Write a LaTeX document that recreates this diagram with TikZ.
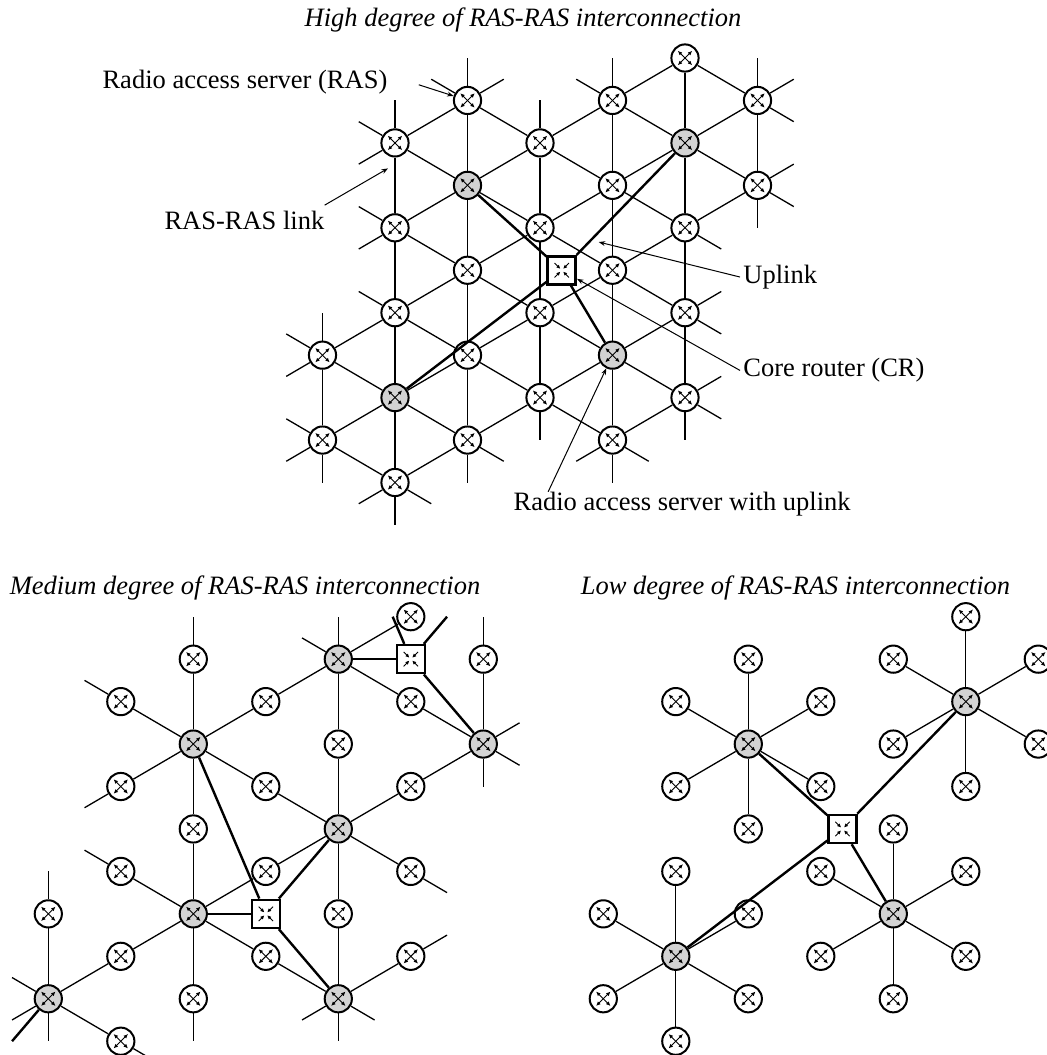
\documentclass[tikz,border=0pt]{standalone}
\usepackage{fontspec}
\setmainfont{Liberation Serif}
\usetikzlibrary{arrows.meta, calc}
\definecolor{rasgray}{RGB}{211,211,211}
\tikzset{
  xarrow/.style={line width=.45pt, {Latex[length=2.2pt,width=2pt]}-{Latex[length=2.2pt,width=2pt]}},
  inarrow/.style={line width=.45pt, -{Latex[length=2pt,width=1.9pt]}},
  xglyph/.style={path picture={
    \draw[xarrow] ([shift={(-3.6pt,-3.6pt)}]path picture bounding box.center) -- ([shift={(3.6pt,3.6pt)}]path picture bounding box.center);
    \draw[xarrow] ([shift={(-3.6pt,3.6pt)}]path picture bounding box.center) -- ([shift={(3.6pt,-3.6pt)}]path picture bounding box.center);
  }},
  crglyph/.style={path picture={
    \foreach \sx/\sy in {1/1,1/-1,-1/1,-1/-1}
      \draw[inarrow] ([shift={(\sx*3.6pt,\sy*3.6pt)}]path picture bounding box.center) -- ([shift={(\sx*.7pt,\sy*.7pt)}]path picture bounding box.center);
  }},
  ras/.style={circle, draw, line width=1pt, fill=white, minimum size=13.6pt, inner sep=0pt, xglyph},
  rasup/.style={ras, fill=rasgray},
  cr/.style={rectangle, draw, line width=1.3pt, fill=white, minimum size=14pt, inner sep=0pt, crglyph},
  link/.style={line width=.65pt},
  uplink/.style={line width=1.2pt},
  note/.style={line width=.5pt, -{Stealth[length=3.2pt,width=2.4pt]}},
  lbl/.style={inner sep=0pt},
  title/.style={lbl, font=\fontsize{13.25pt}{16pt}\selectfont\itshape},
}

\begin{document}
\begin{tikzpicture}[font=\fontsize{13.25pt}{16pt}\selectfont]
    \useasboundingbox (0,0) rectangle (523pt,-527.5pt);

    \node[title, anchor=base] (high) at (261.5pt,-13pt) {High degree of RAS-RAS interconnection};
    \node[title, anchor=base] (medium) at (122.5pt,-297pt) {Medium degree of RAS-RAS interconnection};
    \node[title, anchor=base] (low) at (397.75pt,-297pt) {Low degree of RAS-RAS interconnection};

    % high degree
    \begin{scope}[shift={(161.25pt,-29pt)}, x=36.25pt, y=-21.225pt]
    \foreach \c/\r in {5/0,2/1,4/1,6/1,1/2,3/2,4/3,6/3,1/4,3/4,5/4,2/5,4/5,1/6,3/6,5/6,0/7,2/7,3/8,5/8,0/9,2/9,4/9,1/10}
        \node[ras] (h\c-\r) at (\c,\r) {};
    \foreach \c/\r in {5/2,2/3,4/7,1/8}
        \node[rasup] (h\c-\r) at (\c,\r) {};
    \node[cr] (hcr) at (3.3,5) {};

    \foreach \a/\b in {5-0/5-2,5-0/6-1,5-0/4-1,2-1/2-3,2-1/3-2,2-1/1-2,4-1/4-3,4-1/5-2,4-1/3-2,
        6-1/6-3,6-1/5-2,1-2/1-4,1-2/2-3,3-2/3-4,3-2/4-3,3-2/2-3,5-2/5-4,5-2/6-3,5-2/4-3,
        2-3/2-5,2-3/3-4,2-3/1-4,4-3/4-5,4-3/5-4,4-3/3-4,6-3/5-4,1-4/1-6,1-4/2-5,
        3-4/3-6,3-4/4-5,3-4/2-5,5-4/5-6,5-4/4-5,2-5/2-7,2-5/3-6,2-5/1-6,4-5/4-7,4-5/5-6,4-5/3-6,
        1-6/1-8,1-6/2-7,1-6/0-7,3-6/3-8,3-6/4-7,3-6/2-7,5-6/5-8,5-6/4-7,0-7/0-9,0-7/1-8,
        2-7/2-9,2-7/3-8,2-7/1-8,4-7/4-9,4-7/5-8,4-7/3-8,1-8/1-10,1-8/2-9,1-8/0-9,
        3-8/4-9,3-8/2-9,5-8/4-9,0-9/1-10,2-9/1-10}
        \draw[link] (h\a) -- (h\b);
    \foreach \a/\dx/\dy in {2-1/0/-1,4-1/0/-1,6-1/0/-1,1-2/0/-1,3-2/0/-1,0-7/0/-1,
        2-1/-.5/-.5,4-1/-.5/-.5,1-2/-.5/-.5,1-4/-.5/-.5,1-6/-.5/-.5,0-7/-.5/-.5,0-9/-.5/-.5,
        2-1/.5/-.5,6-1/.5/-.5,6-3/.5/-.5,5-6/.5/-.5,5-8/.5/-.5,
        6-3/0/1,3-8/0/1,5-8/0/1,0-9/0/1,2-9/0/1,4-9/0/1,1-10/0/1,
        6-1/.5/.5,6-3/.5/.5,5-4/.5/.5,5-6/.5/.5,5-8/.5/.5,2-9/.5/.5,4-9/.5/.5,1-10/.5/.5,
        1-2/-.5/.5,1-4/-.5/.5,0-7/-.5/.5,0-9/-.5/.5,4-9/-.5/.5,1-10/-.5/.5}
        \draw[link] (h\a) -- ++(\dx,\dy);
    \foreach \b in {2-3,5-2,4-7,1-8}
        \draw[uplink] (hcr) -- (h\b);

    \node[lbl, anchor=base east] (ras) at (0.9,0.71) {Radio access server (RAS)};
    \node[lbl, anchor=base east] (link) at (0.03,4.05) {RAS-RAS link};
    \node[lbl, anchor=base west] (uplink) at (5.8,5.31) {Uplink};
    \node[lbl, anchor=base west] (core) at (5.8,7.51) {Core router (CR)};
    \node[lbl, anchor=base west] (rasup) at (2.63,10.66) {Radio access server with uplink};
    \draw[note] ([xshift=15.5pt,yshift=-1.5pt]ras.east) -- (h2-1);
    \draw[note] ([yshift=3pt]link.north east) -- ([xshift=-3.5pt]$(h1-2)!.3!(h1-4)$);
    \draw[note] ([xshift=-1.5pt]uplink.west) -- ([yshift=-5pt]$(hcr)!.3!(h5-2)$);
    \draw[note] ([xshift=-1.5pt]core.west) -- (hcr);
    \draw[note] ([xshift=17.5pt]rasup.north west) -- (h4-7);
    \end{scope}

    % medium degree
    \begin{scope}[shift={(24.15pt,-308.35pt)}, x=36.25pt, y=-21.225pt]
    \foreach \c/\r in {5/0,2/1,6/1,1/2,3/2,5/2,4/3,1/4,3/4,5/4,2/5,1/6,3/6,5/6,0/7,4/7,1/8,3/8,5/8,2/9,1/10}
        \node[ras] (m\c-\r) at (\c,\r) {};
    \foreach \c/\r in {4/1,2/3,6/3,4/5,2/7,0/9,4/9}
        \node[rasup] (m\c-\r) at (\c,\r) {};
    \node[cr] (mcra) at (5,1) {};
    \node[cr] (mcrb) at (3,7) {};

    \foreach \a/\b in {4-1/5-0,4-1/3-2,4-1/5-2,4-1/4-3,2-3/2-1,2-3/1-2,2-3/3-2,2-3/1-4,2-3/3-4,2-3/2-5,
        6-3/6-1,6-3/5-2,6-3/5-4,4-5/4-3,4-5/3-4,4-5/5-4,4-5/3-6,4-5/5-6,4-5/4-7,
        2-7/2-5,2-7/1-6,2-7/3-6,2-7/1-8,2-7/3-8,2-7/2-9,0-9/0-7,0-9/1-8,0-9/1-10,
        4-9/4-7,4-9/3-8,4-9/5-8}
        \draw[link] (m\a) -- (m\b);
    \foreach \a/\dx/\dy in {4-1/0/-1,4-1/-.5/-.5,2-1/0/-1,6-1/0/-1,1-2/-.5/-.5,6-3/0/1,6-3/.5/-.5,
        6-3/.5/.5,1-4/-.5/.5,5-6/.5/.5,1-6/-.5/-.5,0-7/0/-1,2-9/0/1,0-9/0/1,0-9/-.5/-.5,
        0-9/-.5/.5,1-10/.5/.5,4-9/0/1,4-9/-.5/.5,4-9/.5/.5,5-8/.5/-.5}
        \draw[link] (m\a) -- ++(\dx,\dy);
    \foreach \b in {4-1,6-3}
        \draw[uplink] (mcra) -- (m\b);
    \foreach \b in {2-3,4-5,2-7,4-9}
        \draw[uplink] (mcrb) -- (m\b);
    \draw[uplink] (mcra) -- ++(-.25,-1);
    \draw[uplink] (mcra) -- ++(.5,-1);
    \draw[uplink] (m0-9) -- ++(-.5,1);
    \end{scope}

    % low degree
    \begin{scope}[shift={(301.65pt,-308.35pt)}, x=36.25pt, y=-21.225pt]
    \foreach \c/\r in {2/1,2/5,1/2,1/4,3/2,3/4,5/0,5/4,4/1,4/3,6/1,6/3,
        4/5,4/9,3/6,3/8,5/6,5/8,1/6,1/10,0/7,0/9,2/7,2/9}
        \node[ras] (l\c-\r) at (\c,\r) {};
    \foreach \c/\r in {2/3,5/2,4/7,1/8}
        \node[rasup] (l\c-\r) at (\c,\r) {};
    \node[cr] (lcr) at (3.3,5) {};

    \foreach \a/\b in {2-3/2-1,2-3/2-5,2-3/1-2,2-3/1-4,2-3/3-2,2-3/3-4,
        5-2/5-0,5-2/5-4,5-2/4-1,5-2/4-3,5-2/6-1,5-2/6-3,
        4-7/4-5,4-7/4-9,4-7/3-6,4-7/3-8,4-7/5-6,4-7/5-8,
        1-8/1-6,1-8/1-10,1-8/0-7,1-8/0-9,1-8/2-7,1-8/2-9}
        \draw[link] (l\a) -- (l\b);
    \foreach \b in {2-3,5-2,4-7,1-8}
        \draw[uplink] (lcr) -- (l\b);
    \end{scope}
\end{tikzpicture}
\end{document}
